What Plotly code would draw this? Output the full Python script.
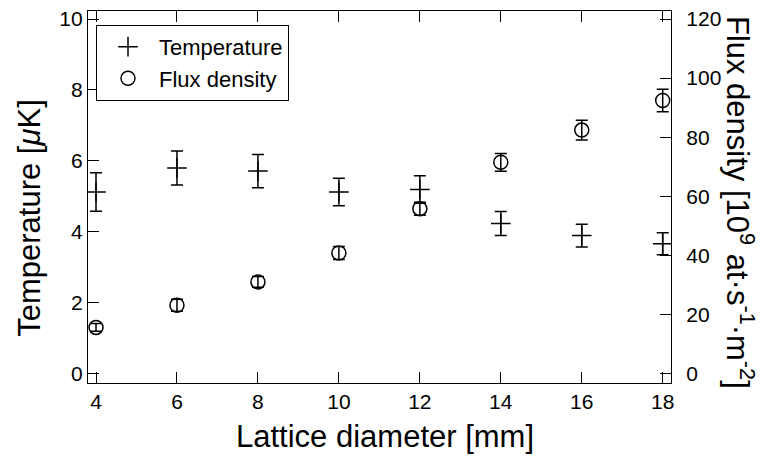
import plotly.graph_objects as go

# Data
diameter = [4, 6, 8, 10, 12, 14, 16, 18]
temperature = [5.12, 5.80, 5.71, 5.12, 5.19, 4.23, 3.89, 3.66]
temperature_err = [0.54, 0.48, 0.47, 0.39, 0.39, 0.34, 0.32, 0.31]
flux = [15.6, 23.1, 31.0, 40.8, 55.8, 71.5, 82.4, 92.4]
flux_err = [1.3, 2.0, 1.8, 2.2, 2.2, 3.0, 3.35, 3.8]

x_ticks = [4, 6, 8, 10, 12, 14, 16, 18]
y_ticks = [0, 2, 4, 6, 8, 10]
y2_ticks = [0, 20, 40, 60, 80, 100, 120]

FONT = "Liberation Sans, Arial, Helvetica, sans-serif"
W, H = 769, 464
L, R, T, B = 88, 98, 7, 81
PW, PH = W - L - R, H - T - B


def px(xp):
    return (xp - L) / PW


def py(yp):
    return (H - B - yp) / PH


fig = go.Figure()
fig.add_trace(go.Scatter(
    x=diameter, y=temperature, mode="markers", name="Temperature",
    marker=dict(symbol="cross-thin", size=14, line=dict(color="black", width=1.5), color="black"),
    error_y=dict(type="data", array=temperature_err, visible=True, color="black", thickness=1.5, width=6),
    yaxis="y",
))
fig.add_trace(go.Scatter(
    x=diameter, y=flux, mode="markers", name="Flux density",
    marker=dict(symbol="circle-open", size=14, line=dict(color="black", width=1.5), color="black"),
    error_y=dict(type="data", array=flux_err, visible=True, color="black", thickness=1.5, width=6),
    yaxis="y2",
))

axis_common = dict(
    showgrid=False, zeroline=False, showline=True, linecolor="black", linewidth=1.3,
    ticks="inside", ticklen=11, tickwidth=1.3, tickcolor="black",
    tickfont=dict(family=FONT, size=21, color="black"),
)

fig.update_layout(
    width=W, height=H,
    margin=dict(l=L, r=R, t=T, b=B, pad=0),
    paper_bgcolor="white", plot_bgcolor="white",
    showlegend=True,
    legend=dict(
        x=px(96), y=py(21), xanchor="left", yanchor="top",
        bordercolor="black", borderwidth=1, bgcolor="white",
        font=dict(family=FONT, size=22, color="black"),
        itemsizing="trace", itemwidth=52, tracegroupgap=0,
    ),
    xaxis=dict(
        range=[3.802, 18.205], tickvals=x_ticks, mirror="ticks",
        **axis_common,
    ),
    yaxis=dict(
        range=[-0.268, 10.226], tickvals=y_ticks, mirror=False,
        **axis_common,
    ),
    yaxis2=dict(
        range=[-0.268 * 12, 10.226 * 12], tickvals=y2_ticks, overlaying="y", side="right",
        ticklabelstandoff=10,
        **axis_common,
    ),
    annotations=[
        dict(text="Lattice diameter [mm]", xref="paper", yref="paper", x=px(385), y=py(437),
             xanchor="center", yanchor="middle", showarrow=False,
             font=dict(family=FONT, size=31, color="black")),
        dict(text="Temperature [<i>μ</i>K]", xref="paper", yref="paper", x=px(30), y=py(216),
             xanchor="center", yanchor="middle", showarrow=False, textangle=-90,
             font=dict(family=FONT, size=31, color="black")),
        dict(text="Flux density [10<sup>9</sup> at·s<sup>-1</sup>·m<sup>-2</sup>]", xref="paper", yref="paper",
             x=px(740), y=py(200), xanchor="center", yanchor="middle", showarrow=False, textangle=90,
             font=dict(family=FONT, size=31, color="black")),
    ],
)

fig.write_html("out.html")
